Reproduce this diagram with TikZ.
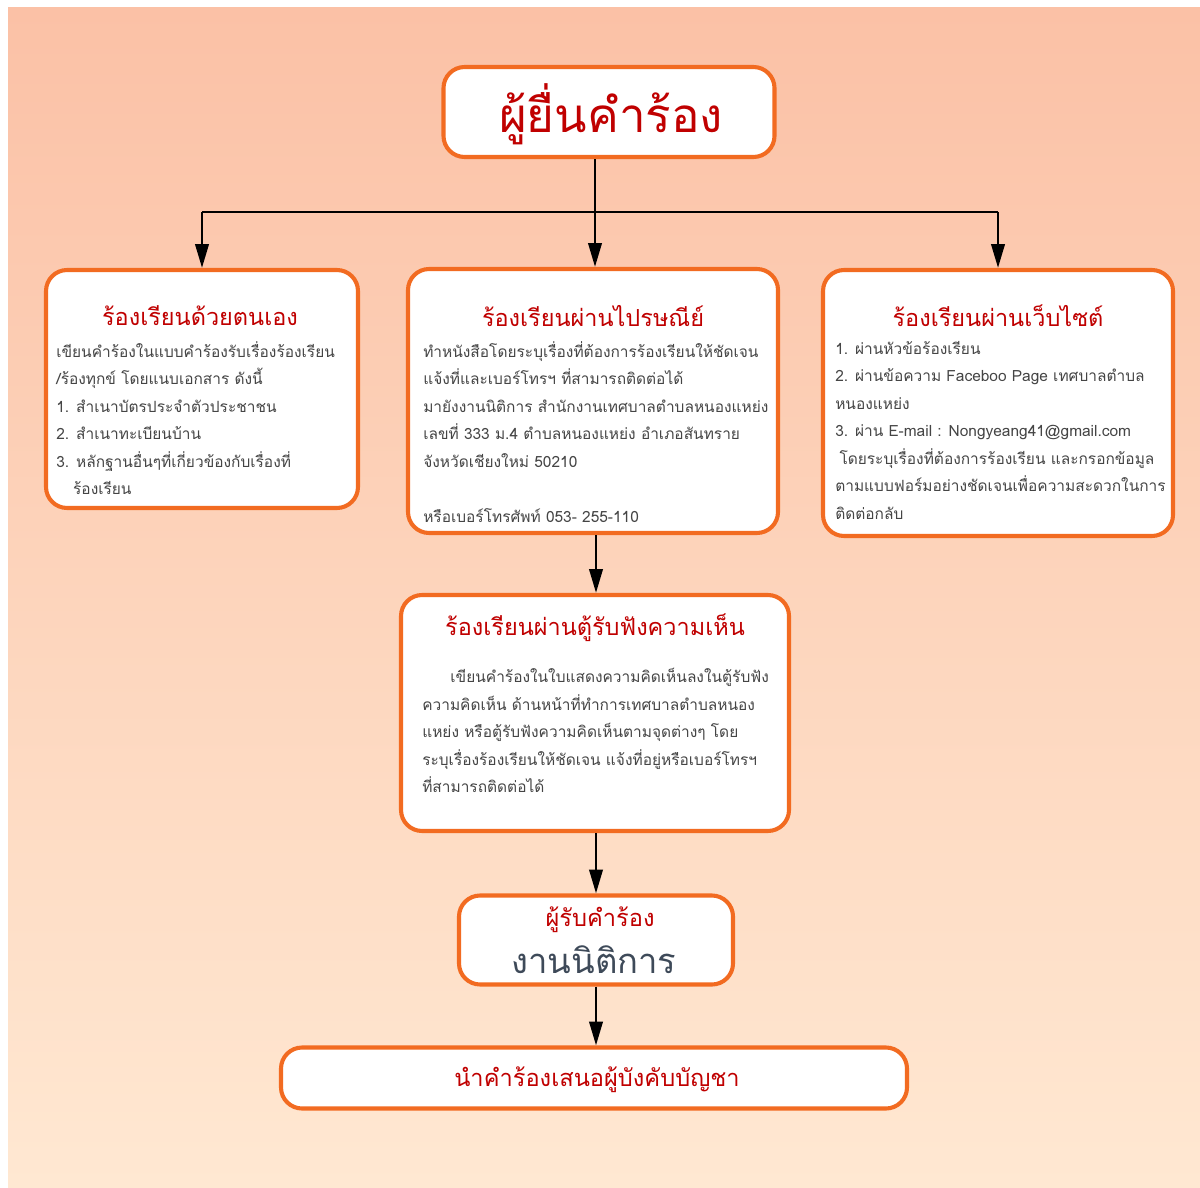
\documentclass[tikz,border=0pt]{standalone}
\usepackage{fontspec}
\newfontfamily\thaifont[Script=Thai]{Loma}
\usetikzlibrary{arrows.meta}
\usetikzlibrary{positioning}
\definecolor{boxorange}{HTML}{F26B21}
\definecolor{titlered}{HTML}{C00000}
\definecolor{bodygray}{HTML}{454545}
\definecolor{slate}{HTML}{3E4A59}
\definecolor{bgtop}{HTML}{FBC1A6}
\definecolor{bgbottom}{HTML}{FFE8D2}
\newcommand{\px}{0.025cm}

\begin{document}
\begin{tikzpicture}[x=0.025cm,y=-0.025cm]
\tikzstyle{card}=[draw=boxorange,line width=2.9pt,fill=white,rounded corners=15pt,inner sep=0pt]
\tikzstyle{head}=[text=titlered,font=\thaifont\fontsize{16.7}{18}\selectfont,inner sep=0pt]
\tikzstyle{body}=[text=bodygray,font=\thaifont\fontsize{11}{19.56}\selectfont,align=left,anchor=north west,inner sep=0pt]
\tikzstyle{link}=[line width=2pt,-{Triangle[length=17pt,width=9.5pt]}]
\fill[white] (0,0) rectangle (1200,1187);
\useasboundingbox (0,0) rectangle (1200,1187);
\shade[top color=bgtop,bottom color=bgbottom] (8,8) rectangle (1200,1187);

\node[card,minimum width=331*\px,minimum height=90*\px] (filer) at (609,112) {};
\node[text=titlered,font=\thaifont\fontsize{33.8}{36}\selectfont,inner sep=0pt] (filerhead) at (611,114) {ผู้ยื่นคำร้อง};

\node[card,minimum width=312*\px,minimum height=238*\px] (self) at (202,389) {};
\node[head] (selfhead) at (200,316) {ร้องเรียนด้วยตนเอง};
\node[body] (selfbody) at (56,341) {เขียนคำร้องในแบบคำร้องรับเรื่องร้องเรียน\\
/ร้องทุกข์ โดยแนบเอกสาร ดังนี้\\
1. สำเนาบัตรประจำตัวประชาชน\\
2. สำเนาทะเบียนบ้าน\\
3. หลักฐานอื่นๆที่เกี่ยวข้องกับเรื่องที่\\
\hspace*{12pt}ร้องเรียน};

\node[card,minimum width=370*\px,minimum height=264*\px] (post) at (593,401) {};
\node[head] (posthead) at (593,316) {ร้องเรียนผ่านไปรษณีย์};
\node[body] (postbody) at (423,341) {ทำหนังสือโดยระบุเรื่องที่ต้องการร้องเรียนให้ชัดเจน\\
แจ้งที่และเบอร์โทรฯ ที่สามารถติดต่อได้\\
มายังงานนิติการ สำนักงานเทศบาลตำบลหนองแหย่ง\\
เลขที่ 333 ม.4 ตำบลหนองแหย่ง อำเภอสันทราย\\
จังหวัดเชียงใหม่ 50210\\
~\\
หรือเบอร์โทรศัพท์ 053- 255-110};

\node[card,minimum width=350*\px,minimum height=266*\px] (web) at (998,403) {};
\node[head] (webhead) at (998,316) {ร้องเรียนผ่านเว็บไซต์};
\node[body] (webbody) at (835,341) {1. ผ่านหัวข้อร้องเรียน\\
2. ผ่านข้อความ Faceboo Page เทศบาลตำบล\\
หนองแหย่ง\\
3. ผ่าน E-mail : Nongyeang41@gmail.com\\
\hspace*{3pt}โดยระบุเรื่องที่ต้องการร้องเรียน และกรอกข้อมูล\\
ตามแบบฟอร์มอย่างชัดเจนเพื่อความสะดวกในการ\\
ติดต่อกลับ};

\node[card,minimum width=388*\px,minimum height=236*\px] (kiosk) at (595,713) {};
\node[head] (kioskhead) at (595,628) {ร้องเรียนผ่านตู้รับฟังความเห็น};
\node[body] (kioskbody) at (422,668) {\hspace*{20pt}เขียนคำร้องในใบแสดงความคิดเห็นลงในตู้รับฟัง\\
ความคิดเห็น ด้านหน้าที่ทำการเทศบาลตำบลหนอง\\
แหย่ง หรือตู้รับฟังความคิดเห็นตามจุดต่างๆ โดย\\
ระบุเรื่องร้องเรียนให้ชัดเจน แจ้งที่อยู่หรือเบอร์โทรฯ\\
ที่สามารถติดต่อได้};

\node[card,minimum width=274*\px,minimum height=89*\px] (legal) at (596,940) {};
\node[text=titlered,font=\thaifont\fontsize{16.8}{18}\selectfont,inner sep=0pt] (legalhead) at (600,920) {ผู้รับคำร้อง};
\node[text=slate,font=\thaifont\fontsize{24.6}{26}\selectfont,inner sep=0pt] (legalname) at (594,960) {งานนิติการ};

\node[card,minimum width=626*\px,minimum height=61*\px] (boss) at (594,1078) {};
\node[text=titlered,font=\thaifont\fontsize{16.8}{18}\selectfont,inner sep=0pt] (bosshead) at (597,1080) {นำคำร้องเสนอผู้บังคับบัญชา};

\coordinate (fork) at (595,212);
\draw[line width=2pt] (filer.south -| fork) -- (fork);
\draw[line width=2pt] (fork -| self) -- (fork -| web);
\draw[link] (fork -| self) -- (self.north);
\draw[link] (fork) -- (fork |- post.north);
\draw[link] (fork -| web) -- (web.north);
\draw[link] (post.south -| legal) -- (legal |- kiosk.north);
\draw[link] (kiosk.south -| legal) -- (legal.north);
\draw[link] (legal.south) -- (legal |- boss.north);
\end{tikzpicture}
\end{document}
